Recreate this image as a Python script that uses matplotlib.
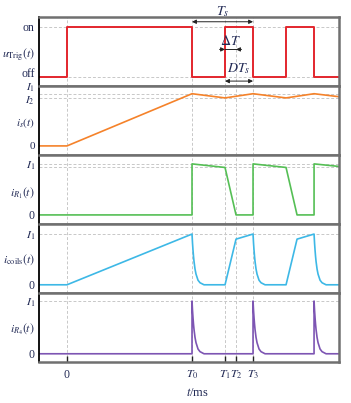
import numpy as np
import matplotlib
matplotlib.use('Agg')
import matplotlib.pyplot as plt

plt.rcParams['font.family'] = ['Liberation Serif', 'DejaVu Serif']
plt.rcParams['mathtext.fontset'] = 'stix'

# switching instants (ms, arbitrary scale)
T0, T1, T2, T3 = 5.0, 6.32, 6.76, 7.44
t_off = [5.0, 7.44, 9.88]
t_on = [6.32, 8.76]
x_min, x_max = -1.12, 10.88

# trigger signal (0 = off, 1 = on)
u_t = [x_min, 0, 0, 5.0, 5.0, 6.32, 6.32, 7.44, 7.44, 8.76, 8.76, 9.88, 9.88, x_max]
u_v = [0, 0, 1, 1, 0, 0, 1, 1, 0, 0, 1, 1, 0, 0]

# source current
is_t = [x_min, 0, 5.0, 6.32, 7.44, 8.76, 9.88, x_max]
is_v = [0, 0, 0.87, 0.80, 0.87, 0.80, 0.87, 0.82]

# current through R1
ir1_t = [x_min, 5.0, 5.0, 6.32, 6.76, 7.44, 7.44, 8.76, 9.2, 9.88, 9.88, x_max]
ir1_v = [0, 0, 1.0, 0.93, 0, 0, 1.0, 0.93, 0, 0, 1.0, 0.95]

# decay tail after each switch-off (offset in ms, fraction of peak)
decay_dt = [0, 0.02, 0.04, 0.06, 0.08, 0.12, 0.16, 0.24, 0.32, 0.48]
decay_f = [1.0, 0.82, 0.68, 0.56, 0.46, 0.31, 0.21, 0.09, 0.04, 0.0]

# coil current: ramps, plateaus, decays
coil_ramp_t = [x_min, 0, 5.0]
coil_ramp_v = [0, 0, 1.0]
coil_rise_t = [0, 0.44, 1.12]
coil_rise_v = [0, 0.90, 1.0]

# labels
u_ticks = ['off', '$u_{\\mathrm{Trig}}(t)$', 'on']
is_ticks = ['0', '$i_s(t)$', '$I_2$', '$I_1$']
ir1_ticks = ['0', '$i_{R_1}(t)$', '$I_1$']
coil_ticks = ['0', '$i_{\\mathrm{coils}}(t)$', '$I_1$']
ir4_ticks = ['0', '$i_{R_4}(t)$', '$I_1$']
x_ticks = [0, T0, T1, T2, T3]
x_labels = ['0', '$T_0$', '$T_1$', '$T_2$', '$T_3$']

txt = '#222a55'
grid_c = '#c8c8c8'

fig = plt.figure(figsize=(3.51, 4.03), dpi=100)
gs = fig.add_gridspec(5, 1, left=0.111, right=0.966, top=0.958, bottom=0.102, hspace=0)
axes = [fig.add_subplot(gs[i]) for i in range(5)]


def style(ax, ylim, ticks, labels, hlines, bottom=False):
    ax.set_xlim(x_min, x_max)
    ax.set_ylim(*ylim)
    ax.set_yticks(ticks)
    ax.set_yticklabels(labels)
    ax.tick_params(axis='y', length=0, labelsize=8.5, labelcolor=txt, pad=3)
    ax.tick_params(axis='x', direction='in', length=4 if bottom else 0, width=1,
                   color='#222222', labelsize=8.5, labelcolor=txt, pad=5)
    ax.set_xticks(x_ticks)
    ax.set_xticklabels([])
    for xv in x_ticks:
        ax.axvline(xv, color=grid_c, lw=0.7, ls=(0, (3, 2)), zorder=0)
    for yv in hlines:
        ax.axhline(yv, color=grid_c, lw=0.7, ls=(0, (3, 2)), zorder=0)
    ax.spines['left'].set_color('black')
    ax.spines['left'].set_linewidth(1.3)
    for s in ['top', 'bottom', 'right']:
        ax.spines[s].set_color('#707070')
        ax.spines[s].set_linewidth(1.8)


def tail_curve(times, peaks):
    # build t/v points for the decaying tails
    tt, vv = [], []
    for t0, p in zip(times, peaks):
        tt += [t0 + d for d in decay_dt]
        vv += [p * f for f in decay_f]
    return tt, vv


# panel 1: trigger
ax = axes[0]
ax.plot(u_t, u_v, color='#e3262d', lw=1.4)
style(ax, (-0.176, 1.196), [0.1, 0.49, 1.0], u_ticks, [0, 1])
ax.annotate('', xy=(T0, 1.10), xytext=(T3, 1.10),
            arrowprops=dict(arrowstyle='<|-|>', color='#222222', lw=0.7,
                            mutation_scale=6, shrinkA=0, shrinkB=0))
ax.text((T0 + T3) / 2, 1.30, '$T_s$', ha='center', va='center', fontsize=10,
        color=txt, clip_on=False)
ax.annotate('', xy=(T1, 0.55), xytext=(T1 - 0.22, 0.55),
            arrowprops=dict(arrowstyle='-|>', color='#222222', lw=0.7,
                            mutation_scale=6, shrinkA=0, shrinkB=0))
ax.annotate('', xy=(T2, 0.55), xytext=(T2 + 0.22, 0.55),
            arrowprops=dict(arrowstyle='-|>', color='#222222', lw=0.7,
                            mutation_scale=6, shrinkA=0, shrinkB=0))
ax.plot([T1, T2], [0.55, 0.55], color='#222222', lw=0.7)
ax.text((T1 + T2) / 2, 0.72, '$\\Delta T$', ha='center', va='center',
        fontsize=10, color=txt)
ax.annotate('', xy=(T1, -0.08), xytext=(T3, -0.08),
            arrowprops=dict(arrowstyle='<|-|>', color='#222222', lw=0.7,
                            mutation_scale=6, shrinkA=0, shrinkB=0))
ax.text((T1 + T3) / 2, 0.17, '$DT_s$', ha='center', va='center',
        fontsize=10, color=txt)

# panel 2: source current
ax = axes[1]
ax.plot(is_t, is_v, color='#f5822a', lw=1.2)
style(ax, (-0.15, 1.0), [0, 0.42, 0.79, 1.0], is_ticks, [0.80, 0.87])
ax.tick_params(axis='y', labelsize=8)

# panel 3: R1 current
ax = axes[2]
ax.plot(ir1_t, ir1_v, color='#55bf55', lw=1.2)
style(ax, (-0.176, 1.176), [0, 0.47, 1.0], ir1_ticks, [0.93, 1.0])

# panel 4: coil current
ax = axes[3]
ct, cv = list(coil_ramp_t), list(coil_ramp_v)
tail_t, tail_v = tail_curve(t_off, [1.0, 1.0, 1.0])
for i, t0 in enumerate(t_off):
    ct += tail_t[i * len(decay_dt):(i + 1) * len(decay_dt)]
    cv += tail_v[i * len(decay_dt):(i + 1) * len(decay_dt)]
    if i < len(t_on):
        ct += [t_on[i] + d for d in coil_rise_t]
        cv += coil_rise_v
ct.append(x_max)
cv.append(0)
ax.plot(ct, cv, color='#3db8e6', lw=1.2)
style(ax, (-0.16, 1.2), [0, 0.54, 1.0], coil_ticks, [1.0])

# panel 5: R4 current
ax = axes[4]
rt, rv = [x_min], [0]
for t0 in t_off:
    rt += [t0] + [t0 + d for d in decay_dt]
    rv += [0] + [f for f in decay_f]
rt.append(x_max)
rv.append(0)
ax.plot(rt, rv, color='#7d55b3', lw=1.2)
style(ax, (-0.154, 1.154), [0, 0.5, 1.0], ir4_ticks, [1.0], bottom=True)
ax.set_xticklabels(x_labels)
ax.set_xlabel('$t$/ms', fontsize=9, color=txt, labelpad=4)
ax.xaxis.set_label_coords(0.53, -0.37)

fig.savefig('out.png', dpi=100)
